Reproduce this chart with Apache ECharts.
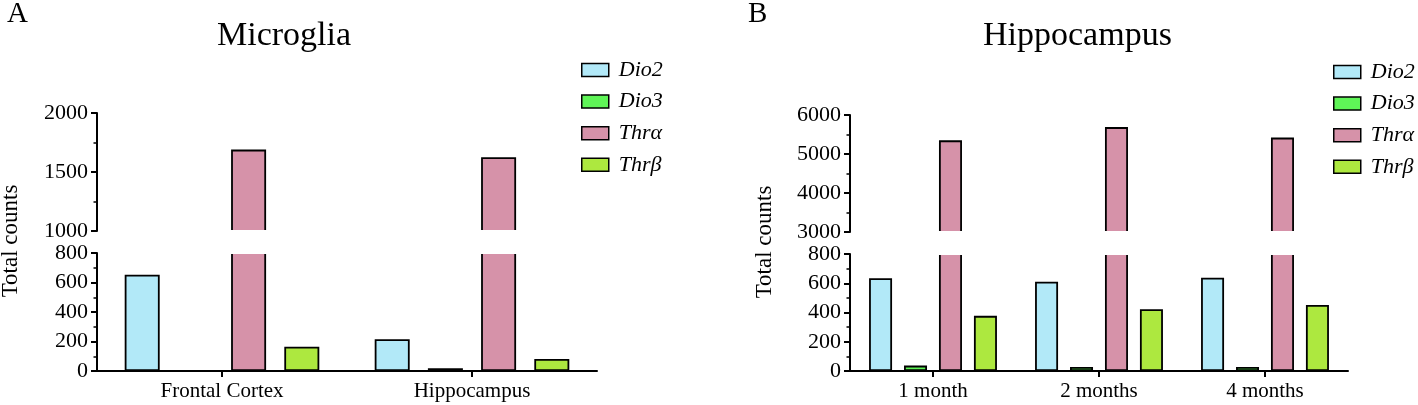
<!DOCTYPE html>
<html><head><meta charset="utf-8">
<script src="https://cdn.jsdelivr.net/npm/echarts@6/dist/echarts.min.js"></script>
<style>html,body{margin:0;padding:0;background:#fff}#c{width:1418px;height:405px}</style>
</head><body><div id="c"></div>
<script>
// ---- data ----
const seriesNames = ['Dio2', 'Dio3', 'Thrα', 'Thrβ'];
const catsA = ['Frontal Cortex', 'Hippocampus'];
const dio2A = [653, 215];
const dio3A = [0, 18];
const thraA = [1690, 1625];
const thrbA = [165, 82];
const catsB = ['1 month', '2 months', '4 months'];
const dio2B = [635, 610, 638];
const dio3B = [37, 28, 28];
const thraB = [5350, 5690, 5420];
const thrbB = [377, 423, 452];
const ticksALow = [0, 200, 400, 600, 800];
const ticksAHigh = [1000, 1500, 2000];
const ticksBLow = [0, 200, 400, 600, 800];
const ticksBHigh = [3000, 4000, 5000, 6000];

// ---- style ----
const colors = ['#b2e9f8', '#5ff557', '#d692a9', '#ade83f'];
const FONT = 'Liberation Serif';
const grids = [
  {left: 97, top: 113, width: 500, height: 118},   // A upper
  {left: 97, top: 253, width: 500, height: 118},   // A lower
  {left: 850, top: 115, width: 498, height: 117},  // B upper
  {left: 850, top: 254, width: 498, height: 117}   // B lower
];

function yAx(gi, ticks) {
  return {
    type: 'value', gridIndex: gi,
    min: ticks[0], max: ticks[ticks.length - 1], interval: ticks[1] - ticks[0],
    axisLine: {show: true, lineStyle: {color: '#000', width: 2}},
    axisTick: {show: true, length: 6, lineStyle: {color: '#000', width: 2}},
    minorTick: {show: true, splitNumber: 2, length: 3.5, lineStyle: {color: '#000', width: 1.5}},
    splitLine: {show: false},
    axisLabel: {color: '#000', fontFamily: FONT, fontSize: 22, margin: 9, formatter: v => String(v)}
  };
}
function xAx(gi, cats, visible) {
  return {
    type: 'category', gridIndex: gi, data: cats, show: visible,
    axisLine: {show: visible, lineStyle: {color: '#000', width: 2}},
    axisTick: {show: visible, alignWithLabel: true, length: 6, lineStyle: {color: '#000', width: 2}},
    axisLabel: {show: visible, color: '#000', fontFamily: FONT, fontSize: 21, margin: 10}
  };
}
function panelSeries(list, axes, barWidth) {
  const out = [];
  list.forEach((vals, i) => {
    axes.forEach(ax => out.push({
      type: 'bar', name: seriesNames[i], xAxisIndex: ax, yAxisIndex: ax, data: vals,
      barWidth: barWidth, barGap: '52%', clip: true,
      itemStyle: {color: colors[i], borderColor: '#000', borderWidth: 1.8},
      emphasis: {disabled: true}
    }));
  });
  return out;
}
function legend(left, top) {
  return {
    left: left, top: top, orient: 'vertical', icon: 'rect',
    itemWidth: 27, itemHeight: 13, itemGap: 9.6, selectedMode: false,
    data: seriesNames,
    itemStyle: {borderColor: '#000', borderWidth: 1.5},
    textStyle: {fontFamily: FONT, fontStyle: 'italic', fontSize: 22, lineHeight: 22, color: '#000', padding: [0, 0, 0, 5]}
  };
}
function titleTxt(text, left, top, size) {
  return {text: text, left: left, top: top, padding: 0,
    textStyle: {fontFamily: FONT, fontSize: size, fontWeight: 'normal', color: '#000'}};
}
function mask(gu, gl) {
  const y0 = gu.top + gu.height - 1;
  const y1 = gl.top + 1;
  return {type: 'rect', z: 100, shape: {x: gu.left + 2, y: y0, width: gu.width, height: y1 - y0},
    style: {fill: '#fff'}, silent: true};
}
function yName(x, y) {
  return {type: 'text', x: x, y: y, rotation: Math.PI / 2, z: 100,
    style: {text: 'Total counts', fontFamily: FONT, fontSize: 23, fill: '#000',
      align: 'center', verticalAlign: 'middle', textAlign: 'center', textVerticalAlign: 'middle'}};
}

const chart = echarts.init(document.getElementById('c'), null, {renderer: 'canvas'});
chart.setOption({
  animation: false,
  backgroundColor: '#fff',
  title: [
    titleTxt('A', 7, 0, 29),
    titleTxt('Microglia', 217, 19, 34),
    titleTxt('B', 748, 0, 29),
    titleTxt('Hippocampus', 983, 19, 34)
  ],
  legend: [legend(576, 54), legend(1328, 56)],
  grid: grids,
  xAxis: [xAx(0, catsA, false), xAx(1, catsA, true), xAx(2, catsB, false), xAx(3, catsB, true)],
  yAxis: [yAx(0, ticksAHigh), yAx(1, ticksALow), yAx(2, ticksBHigh), yAx(3, ticksBLow)],
  series: [].concat(
    panelSeries([dio2A, dio3A, thraA, thrbA], [0, 1], 35),
    panelSeries([dio2B, dio3B, thraB, thrbB], [2, 3], 23)
  ),
  graphic: [mask(grids[0], grids[1]), mask(grids[2], grids[3]), yName(10.5, 241), yName(765, 242)]
});
</script></body></html>
